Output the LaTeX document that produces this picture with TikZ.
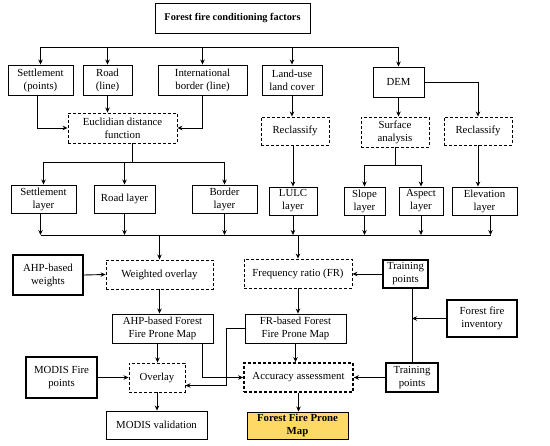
\documentclass[tikz,border=0pt]{standalone}
\usepackage{fontspec}
\setmainfont{Liberation Serif}
\usepackage{xcolor}
\usetikzlibrary{arrows.meta}
\definecolor{mapYellow}{HTML}{FFD966}
\tikzset{box/.style={
    draw,rectangle,line width=0.9pt,align=center,inner sep=1pt,
    font=\fontsize{10.8}{13}\selectfont,
    minimum width=#1
  },
  box/.default=50pt,
  procbox/.style={
    box=#1,dash pattern=on 3pt off 2pt
  },
  procbox/.default=60pt,
  inbox/.style={
    box=#1,line width=1.8pt
  },
  inbox/.default=50pt,
  arr/.style={
    -{Stealth[length=5pt,width=4.5pt]},line width=0.9pt
  },
  ln/.style={
    line width=0.9pt
  }
}

\begin{document}
\begin{tikzpicture}[x=1pt,y=-1pt]
      \useasboundingbox (0,0) rectangle (550,446);
      \node[box=155pt,minimum height=30pt,font=\fontsize{10.3}{12}\selectfont\bfseries] (top) at (232.5,18) {Forest fire conditioning factors};
      \node[box=65pt,minimum height=30pt] (settle) at (40.5,80) {Settlement\\(points)};
      \node[box=49pt,minimum height=30pt] (road) at (107.5,80) {Road\\(line)};
      \node[box=89pt,minimum height=30pt] (intl) at (202.5,80) {International\\border (line)};
      \node[box=60pt,minimum height=30pt] (lulc) at (292,80) {Land-use\\land cover};
      \node[box=51pt,minimum height=30pt] (dem) at (398.5,82) {DEM};
      \node[procbox=109pt,minimum height=30pt] (euclid) at (122.5,128) {Euclidian distance\\function};
      \node[procbox=68pt,minimum height=28pt] (reclA) at (295,131) {Reclassify};
      \node[procbox=68pt,minimum height=30pt] (surf) at (395,132) {Surface\\analysis};
      \node[procbox=68pt,minimum height=28pt] (reclB) at (478,131) {Reclassify};
      \node[box=65pt,minimum height=28pt] (settleL) at (43.5,199) {Settlement\\layer};
      \node[box=61pt,minimum height=28pt] (roadL) at (124.5,199) {Road layer};
      \node[box=65pt,minimum height=28pt] (borderL) at (224.5,199) {Border\\layer};
      \node[box=48pt,minimum height=28pt] (lulcL) at (293,201) {LULC\\layer};
      \node[box=41pt,minimum height=28pt] (slopeL) at (364.5,201) {Slope\\layer};
      \node[box=44pt,minimum height=28pt] (aspectL) at (421,201) {Aspect\\layer};
      \node[box=65pt,minimum height=28pt] (elevL) at (484.5,201) {Elevation\\layer};
      \node[inbox=70pt,minimum height=40pt] (ahpW) at (48,275) {AHP-based\\weights};
      \node[procbox=107pt,minimum height=29pt] (wover) at (159.5,274.5) {Weighted overlay};
      \node[procbox=108pt,minimum height=29pt] (freq) at (298,273.5) {Frequency ratio (FR)};
      \node[inbox=45pt,minimum height=28pt] (trainA) at (405.5,274) {Training\\points};
      \node[inbox=70pt,minimum height=37pt] (inv) at (482,318.5) {Forest fire\\inventory};
      \node[box=101pt,minimum height=29pt] (ahpMap) at (162.5,328.5) {AHP-based Forest\\Fire Prone Map};
      \node[box=101pt,minimum height=29pt] (frMap) at (295.5,328.5) {FR-based Forest\\Fire Prone Map};
      \node[inbox=71pt,minimum height=41pt] (modis) at (61.5,377.5) {MODIS Fire\\points};
      \node[procbox=56pt,minimum height=29pt] (over) at (157,377.5) {Overlay};
      \node[procbox=109pt,minimum height=29pt,line width=1.8pt] (acc) at (298.5,377.5) {Accuracy assessment};
      \node[inbox=52pt,minimum height=29pt] (trainB) at (412,377.5) {Training\\points};
      \node[box=101pt,minimum height=28pt] (modisV) at (156.5,425) {MODIS validation};
      \node[box=101pt,minimum height=27pt,fill=mapYellow,font=\fontsize{10.8}{12.5}\selectfont\bfseries] (ffpm) at (297.5,425.5) {Forest Fire Prone\\Map};
      \coordinate (busA) at (0,47);
      \coordinate (busB) at (0,162);
      \coordinate (busC) at (0,235);
      \coordinate (busD) at (0,165);
      \draw[ln] (settle.north |- busA) -- (dem.north |- busA);
      \foreach \n in {settle,road,intl,lulc,dem}
        \draw[arr] (\n.north |- busA) -- (\n.north);
      \draw[arr] (road.south) -- (road.south |- euclid.north);
      \draw[arr] ([xshift=-3pt]settle.south) |- (euclid.west);
      \draw[arr] (intl.south) |- (euclid.east);
      \draw[arr] (lulc.south) -- (lulc.south |- reclA.north);
      \draw[arr] (dem.south) -- (dem.south |- surf.north);
      \draw[arr] (dem.east) -| (reclB.north);
      \draw[ln] ([xshift=10pt]euclid.south) -- ([xshift=10pt]euclid.south |- busB);
      \draw[ln] (settleL.north |- busB) -- (borderL.north |- busB);
      \foreach \n in {settleL,roadL,borderL}
        \draw[arr] (\n.north |- busB) -- (\n.north);
      \draw[arr] (reclA.south -| lulcL.north) -- (lulcL.north);
      \draw[ln] (surf.south) -- (surf.south |- busD);
      \draw[ln] (slopeL.north |- busD) -- (aspectL.north |- busD);
      \foreach \n in {slopeL,aspectL}
        \draw[arr] (\n.north |- busD) -- (\n.north);
      \draw[arr] (reclB.south) -- (reclB.south |- elevL.north);
      \draw[ln] ([xshift=-3pt]settleL.south |- busC) -- ([xshift=6pt]elevL.south |- busC);
      \foreach \n/\s in {settleL/-3pt,roadL/0pt,borderL/0pt,lulcL/0pt,slopeL/0pt,aspectL/0pt,elevL/6pt}
        \draw[arr] ([xshift=\s]\n.south) -- ([xshift=\s]\n.south |- busC);
      \draw[arr] (wover.north |- busC) -- (wover.north);
      \draw[arr] (freq.north |- busC) -- (freq.north);
      \draw[arr] (ahpW.east) -- (wover.west);
      \draw[arr] (trainA.west) -- (freq.east |- trainA.west);
      \draw[ln] (trainB.north) -- (trainB.north |- trainA.south);
      \draw[arr] (inv.west) -- (inv.west -| trainB.north);
      \draw[arr] (wover.south) -- (wover.south |- ahpMap.north);
      \draw[arr] (freq.south) -- (freq.south |- frMap.north);
      \draw[arr] ([xshift=-5pt]ahpMap.south) -- ([xshift=-5pt]ahpMap.south |- over.north);
      \draw[arr] ([xshift=40pt]ahpMap.south) |- (acc.west);
      \draw[arr] (frMap.west) -- ++(-18,0) |- ([yshift=-8pt]over.east);
      \draw[arr] (frMap.south) -- (frMap.south |- acc.north);
      \draw[arr] (modis.east) -- (over.west);
      \draw[arr] (trainB.west) -- (acc.east);
      \draw[arr] (over.south) -- (over.south |- modisV.north);
      \draw[arr] (acc.south) -- (acc.south |- ffpm.north);
\end{tikzpicture}
\end{document}
